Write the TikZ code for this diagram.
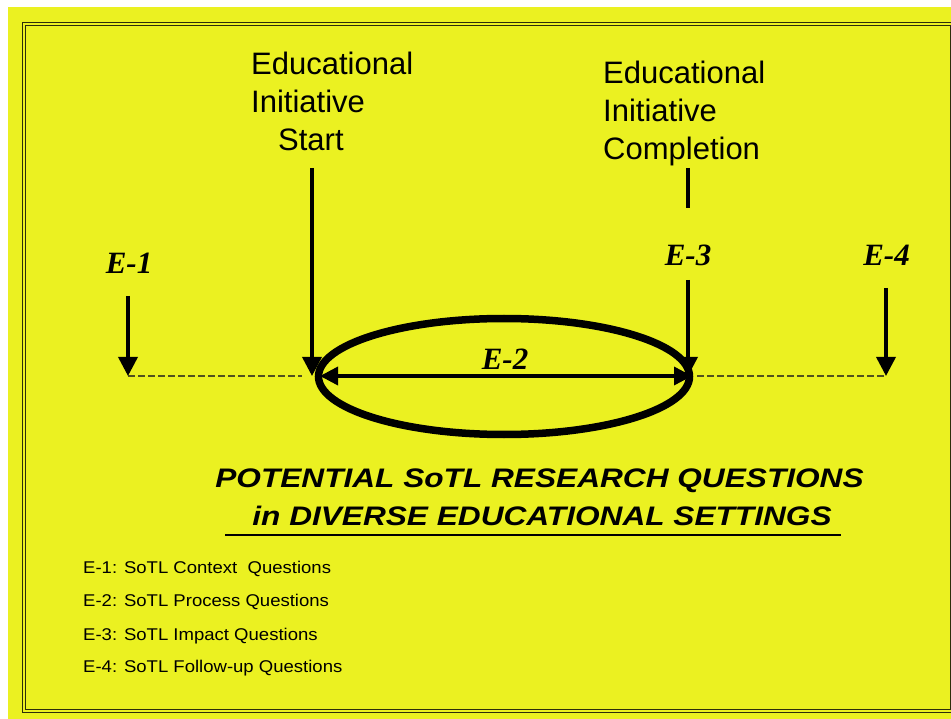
\documentclass[tikz,border=0pt]{standalone}
\usepackage{fontspec}
\setmainfont{Liberation Sans}
\newfontfamily\timesbi{Liberation Serif}
\newfontfamily\titlefont[FakeStretch=1.18]{Liberation Sans}
\newfontfamily\legendfont[FakeStretch=1.09]{Liberation Sans}
\usetikzlibrary{arrows.meta,shapes.geometric}
\definecolor{bgyellow}{RGB}{235,241,33}
\definecolor{framecol}{RGB}{45,45,10}
\definecolor{dashcol}{RGB}{80,80,30}
\tikzset{
  bigtxt/.style={anchor=base west,inner sep=0pt,align=left,font=\fontsize{31}{38}\selectfont},
  elbl/.style={anchor=base,inner sep=0pt,font=\timesbi\bfseries\itshape\fontsize{31}{36}\selectfont},
  titletxt/.style={anchor=base,inner sep=0pt,font=\titlefont\bfseries\itshape\fontsize{26.8}{32}\selectfont},
  legtxt/.style={anchor=base west,inner sep=0pt,font=\legendfont\fontsize{17}{20}\selectfont},
  downarrow/.style={line width=3.5pt,-{Triangle[width=19pt,length=19pt]}},
  plainbar/.style={line width=3.5pt},
  dashline/.style={dashcol,line width=1.5pt,dash pattern=on 7pt off 3pt},
  dblarrow/.style={line width=3.5pt,{Triangle[width=18pt,length=18pt]}-{Triangle[width=18pt,length=18pt]}}
}
\begin{document}
\begin{tikzpicture}[x=1pt,y=-1pt]
\useasboundingbox (0,0) rectangle (951,719);
\fill[white] (0,0) rectangle (951,719);
\fill[bgyellow] (8,7) rectangle (951,719);
% double frame
\draw[framecol,line width=1.8pt] (22.5,22.5) rectangle (953.5,712.5);
\draw[framecol,line width=1.3pt] (25.8,25.8) rectangle (950.2,709.8);

% top texts (anchored at baseline of last line)
\node[bigtxt] (startlbl) at (251,150.7) {Educational\\Initiative\\\hspace*{27pt}Start};
\node[bigtxt] (complbl) at (603,159.3) {Educational\\Initiative\\Completion};

% E labels
\node[elbl] (e1) at (129,274) {E-1};
\node[elbl] (e3) at (688,266) {E-3};
\node[elbl] (e4) at (886.5,266) {E-4};

% ellipse
\node[ellipse,draw,line width=7.5pt,minimum width=371pt,minimum height=116pt,inner sep=0pt] (ell) at (504,376.5) {};
\node[elbl] (e2) at (505,370) {E-2};

% coordinates
\coordinate (e1top) at (128,296);
\coordinate (e1tip) at (128,376);
\coordinate (sttop) at (312,168);
\coordinate (sttip) at (312,376);
\coordinate (e3top) at (688,280);
\coordinate (e3tip) at (688,376);
\coordinate (e4top) at (886,288);
\coordinate (e4tip) at (886,376);
\coordinate (bartop) at (688,168);
\coordinate (barbot) at (688,208);
\coordinate (dlA) at (128,376);
\coordinate (dlB) at (302,376);
\coordinate (drA) at (697,376);
\coordinate (drB) at (886,376);
\coordinate (harL) at (320,376);
\coordinate (harR) at (692,376);

% dashed baseline
\draw[dashline] (dlA) -- (dlB);
\draw[dashline] (drA) -- (drB);

% arrows
\draw[downarrow] (e1top) -- (e1tip);
\draw[downarrow] (sttop) -- (sttip);
\draw[downarrow] (e3top) -- (e3tip);
\draw[downarrow] (e4top) -- (e4tip);
\draw[plainbar] (bartop) -- (barbot);
\draw[dblarrow] (harL) -- (harR);

% title
\node[titletxt] (title1) at (539.5,487) {POTENTIAL SoTL RESEARCH QUESTIONS};
\node[titletxt] (title2) at (542,525) {in DIVERSE EDUCATIONAL SETTINGS};
\coordinate (ulL) at (225,535);
\coordinate (ulR) at (841,535);
\draw[line width=2.5pt] (ulL) -- (ulR);

% legend
\node[legtxt] (leg1) at (83,573) {E-1: SoTL Context\ \ Questions};
\node[legtxt] (leg2) at (83,606) {E-2: SoTL Process Questions};
\node[legtxt] (leg3) at (83,640) {E-3: SoTL Impact Questions};
\node[legtxt] (leg4) at (83,672) {E-4: SoTL Follow-up Questions};
\end{tikzpicture}
\end{document}
